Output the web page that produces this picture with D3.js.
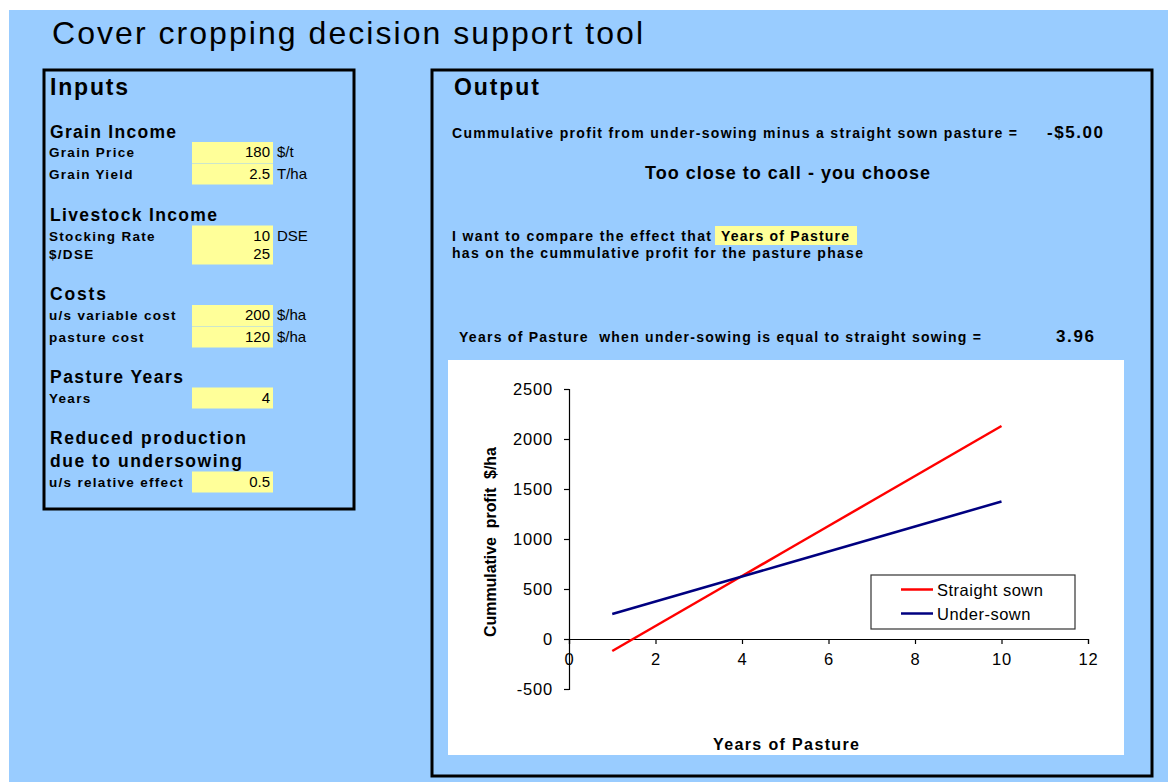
<!DOCTYPE html>
<html>
<head>
<meta charset="utf-8">
<script src="https://cdn.jsdelivr.net/npm/d3@7"></script>
<style>
  body { margin: 0; background: #fff; }
  svg { display: block; font-family: "Liberation Sans", Arial, sans-serif; }
</style>
</head>
<body>
<div id="chart"></div>
<script>
// ---- data ----
var pageTitle = "Cover cropping decision support tool";

var sectionNames = ["Grain Income", "Livestock Income", "Costs", "Pasture Years", "Reduced production|due to undersowing"];
var inputLabels = ["Grain Price", "Grain Yield", "Stocking Rate", "$/DSE", "u/s variable cost", "pasture cost", "Years", "u/s relative effect"];
var inputValues = ["180", "2.5", "10", "25", "200", "120", "4", "0.5"];
var inputUnits = ["$/t", "T/ha", "DSE", "", "$/ha", "$/ha", "", ""];

var profitDiffLabel = "Cummulative profit from under-sowing minus a straight sown pasture =";
var profitDiff = "-$5.00";
var verdict = "Too close to call - you choose";
var compareText = ["I want to compare the effect that", "has on the cummulative profit for the pasture phase"];
var compareVar = "Years of Pasture";
var breakevenLabel = "Years of Pasture  when under-sowing is equal to straight sowing =";
var breakeven = "3.96";

var years = [1, 2, 3, 4, 5, 6, 7, 8, 9, 10];
var straightSown = [-120, 130, 380, 630, 880, 1130, 1380, 1630, 1880, 2130];
var underSown = [250, 375, 500, 625, 750, 875, 1000, 1125, 1250, 1375];
var seriesNames = ["Straight sown", "Under-sown"];
var xTicks = [0, 2, 4, 6, 8, 10, 12];
var yTicks = [-500, 0, 500, 1000, 1500, 2000, 2500];
var xTitle = "Years of Pasture";
var yTitle = "Cummulative  profit  $/ha";

// ---- layout ----
var W = 1168, H = 782;
var colors = { bg: "#99CCFF", cell: "#FFFF99", straight: "#FF0000", under: "#000080" };

var svg = d3.select("#chart").append("svg")
    .attr("width", W)
    .attr("height", H);

svg.append("rect").attr("x", 9).attr("y", 10).attr("width", W - 9).attr("height", H - 10)
    .attr("fill", colors.bg);

svg.append("text")
    .attr("x", 52).attr("y", 44)
    .attr("font-size", 32)
    .attr("textLength", 591)
    .text(pageTitle);

// ---- inputs panel ----
svg.append("rect").attr("x", 44).attr("y", 70).attr("width", 310).attr("height", 439)
    .attr("fill", "none").attr("stroke", "#000").attr("stroke-width", 3);

svg.append("text").attr("x", 50).attr("y", 95)
    .attr("font-size", 23).attr("font-weight", "bold").attr("textLength", 78)
    .text("Inputs");

var headerY = [137.5, 220.5, 299.5, 382.5, 444];
var headerW = [126, 167, 56, 133, 196, 192];
var hw = 0;
sectionNames.forEach(function(s, i) {
    s.split("|").forEach(function(line, j) {
        svg.append("text").attr("x", 50).attr("y", headerY[i] + j * 23)
            .attr("font-size", 17.5).attr("font-weight", "bold")
            .attr("textLength", headerW[hw++])
            .text(line);
    });
});

var rowY = [157, 178.5, 240.5, 258.5, 320, 341.5, 402.5, 486.5];
var rows = svg.append("g").attr("class", "rows");
inputLabels.forEach(function(lab, i) {
    var y = rowY[i];
    rows.append("rect").attr("x", 192).attr("y", y - 15).attr("width", 81).attr("height", 21)
        .attr("fill", colors.cell);
    rows.append("text").attr("x", 49).attr("y", y)
        .attr("font-size", 13.5).attr("font-weight", "bold").attr("letter-spacing", 1.3)
        .text(lab);
    rows.append("text").attr("x", 270).attr("y", y)
        .attr("font-size", 15).attr("text-anchor", "end")
        .text(inputValues[i]);
    rows.append("text").attr("x", 277).attr("y", y)
        .attr("font-size", 15)
        .text(inputUnits[i]);
});

// ---- output panel ----
svg.append("rect").attr("x", 432).attr("y", 70).attr("width", 720).attr("height", 706)
    .attr("fill", "none").attr("stroke", "#000").attr("stroke-width", 3);

svg.append("text").attr("x", 454).attr("y", 95)
    .attr("font-size", 23).attr("font-weight", "bold").attr("textLength", 85)
    .text("Output");

svg.append("text").attr("x", 452).attr("y", 138)
    .attr("font-size", 14).attr("font-weight", "bold").attr("textLength", 565)
    .text(profitDiffLabel);
svg.append("text").attr("x", 1047).attr("y", 138)
    .attr("font-size", 17).attr("font-weight", "bold").attr("textLength", 56)
    .text(profitDiff);
svg.append("text").attr("x", 645).attr("y", 179)
    .attr("font-size", 18).attr("font-weight", "bold").attr("textLength", 285)
    .text(verdict);

svg.append("rect").attr("x", 715).attr("y", 226).attr("width", 142).attr("height", 19)
    .attr("fill", colors.cell);
svg.append("text").attr("x", 452).attr("y", 241)
    .attr("font-size", 14).attr("font-weight", "bold").attr("textLength", 259)
    .text(compareText[0]);
svg.append("text").attr("x", 721).attr("y", 241)
    .attr("font-size", 14).attr("font-weight", "bold").attr("textLength", 128)
    .text(compareVar);
svg.append("text").attr("x", 452).attr("y", 258)
    .attr("font-size", 14).attr("font-weight", "bold").attr("textLength", 411)
    .text(compareText[1]);

svg.append("text").attr("x", 459).attr("y", 342)
    .attr("font-size", 14).attr("font-weight", "bold").attr("textLength", 522)
    .attr("xml:space", "preserve")
    .text(breakevenLabel);
svg.append("text").attr("x", 1056).attr("y", 342)
    .attr("font-size", 17).attr("font-weight", "bold").attr("textLength", 38)
    .text(breakeven);

// ---- chart ----
svg.append("rect").attr("x", 448).attr("y", 360).attr("width", 676).attr("height", 395)
    .attr("fill", "#fff");

var x = d3.scaleLinear().domain([0, 12]).range([569, 1088]);
var y = d3.scaleLinear().domain([-500, 2500]).range([689, 389]);

var plain = function(d) { return String(d); };
var yAxis = svg.append("g")
    .attr("transform", "translate(" + x(0) + ",0)")
    .call(d3.axisLeft(y).tickValues(yTicks).tickFormat(plain).tickSize(5).tickPadding(11));
var xAxis = svg.append("g")
    .attr("transform", "translate(0," + y(0) + ")")
    .call(d3.axisBottom(x).tickValues(xTicks).tickFormat(plain).tickSize(5).tickPadding(9));

[yAxis, xAxis].forEach(function(a) {
    a.selectAll("path, line").attr("stroke", "#000").attr("stroke-width", 1.2);
    a.selectAll("text").attr("font-size", 16.5).attr("fill", "#000")
        .attr("letter-spacing", 0.8)
        .style("font-family", "'Liberation Sans', Arial, sans-serif");
});
yAxis.selectAll("text").attr("dy", "0.35em");

var line = d3.line()
    .x(function(d) { return x(d[0]); })
    .y(function(d) { return y(d[1]); });

var series = [straightSown, underSown];
var seriesColors = [colors.straight, colors.under];
series.forEach(function(vals, i) {
    svg.append("path")
        .datum(years.map(function(yr, k) { return [yr, vals[k]]; }))
        .attr("d", line)
        .attr("fill", "none")
        .attr("stroke", seriesColors[i])
        .attr("stroke-width", 2.5);
});

// axis titles
svg.append("text")
    .attr("transform", "translate(496,542) rotate(-90)")
    .attr("text-anchor", "middle")
    .attr("font-size", 16).attr("font-weight", "bold")
    .attr("textLength", 190).attr("xml:space", "preserve")
    .text(yTitle);
svg.append("text")
    .attr("x", 786).attr("y", 750)
    .attr("text-anchor", "middle")
    .attr("font-size", 16).attr("font-weight", "bold")
    .attr("textLength", 146)
    .text(xTitle);

// legend
var legend = svg.append("g").attr("transform", "translate(871,575)");
legend.append("rect").attr("width", 204).attr("height", 54)
    .attr("fill", "#fff").attr("stroke", "#333").attr("stroke-width", 1.2);
seriesNames.forEach(function(name, i) {
    var ly = 14.5 + i * 24;
    legend.append("line").attr("x1", 30).attr("x2", 62).attr("y1", ly).attr("y2", ly)
        .attr("stroke", seriesColors[i]).attr("stroke-width", 2.5);
    legend.append("text").attr("x", 66).attr("y", ly + 6)
        .attr("font-size", 16.5).attr("letter-spacing", 0.5)
        .text(name);
});
</script>
</body>
</html>
